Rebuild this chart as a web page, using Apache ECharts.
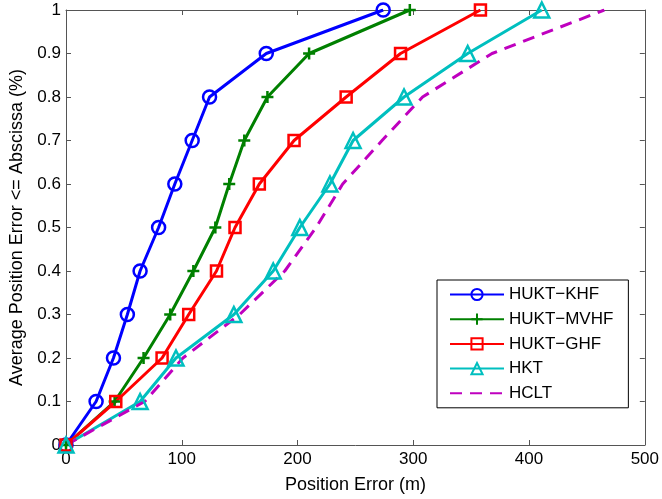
<!DOCTYPE html>
<html lang="en">
<head>
    <meta charset="utf-8">
    <title>Position error CDF</title>
    <script src="https://cdn.jsdelivr.net/npm/echarts@6/dist/echarts.min.js"></script>
    <style>
        html, body { margin: 0; padding: 0; background: #fff; }
        #chart { width: 662px; height: 499px; }
    </style>
</head>
<body>
<div id="chart"></div>
<script type="text/javascript">
    // y levels (fraction of runs)
    var levels = [0, 0.1, 0.2, 0.3, 0.4, 0.5, 0.6, 0.7, 0.8, 0.9, 1.0];

    // position error (m) reached at each level
    var khf = [0, 26, 41, 53, 64, 80, 94, 109, 124, 173, 274];
    var mvhf = [0, 42, 67, 90, 110, 129, 141, 154, 174, 210, 297];
    var ghf = [0, 43, 83, 106, 130, 146, 167, 197, 242, 289, 358];
    var hkt = [0, 64, 95, 145, 179, 202, 228, 248, 292, 347, 411];
    var hclt = [0, 68, 101, 150, 189, 216, 239, 273, 308, 368, 465];

    var names = ['HUKT\u2212KHF', 'HUKT\u2212MVHF', 'HUKT\u2212GHF', 'HKT', 'HCLT'];

    function pairs(xs) {
        return xs.map(function (x, i) { return [x, levels[i]]; });
    }

    var plusPath = 'path://M0,6 L12,6 M6,0 L6,12';
    var font = 'Liberation Sans, Arial, Helvetica, sans-serif';
    var axisGray = '#555';

    function mkSeries(name, xs, color, symbol, size, dashed) {
        return {
            name: name,
            type: 'line',
            data: pairs(xs),
            symbol: symbol,
            symbolSize: size,
            showSymbol: !dashed,
            animation: false,
            lineStyle: { color: color, width: 3, type: dashed ? [12, 8] : 'solid' },
            itemStyle: {
                color: 'transparent',
                borderColor: dashed ? 'transparent' : color,
                borderWidth: 2.5
            },
            z: 5
        };
    }

    // matlab style box: ticks inside on all four sides
    function boxAxis(extra) {
        var a = {
            type: 'value',
            axisLine: { show: true, onZero: false, lineStyle: { color: axisGray, width: 1 } },
            axisTick: { show: true, inside: true, length: 5, lineStyle: { color: axisGray } },
            axisLabel: { show: false },
            splitLine: { show: false }
        };
        for (var k in extra) a[k] = extra[k];
        return a;
    }

    var myChart = echarts.init(document.getElementById('chart'));
    var option = {
        backgroundColor: '#fff',
        animation: false,
        grid: { left: 66, right: 16, top: 10, bottom: 53 },
        legend: {
            orient: 'vertical',
            left: 437,
            top: 280,
            itemWidth: 54,
            itemHeight: 14,
            itemGap: 7.7,
            padding: [6, 15, 6, 12],
            borderColor: '#000',
            borderWidth: 1,
            backgroundColor: '#fff',
            textStyle: { fontSize: 17, color: '#000', fontFamily: font },
            data: names
        },
        xAxis: [
            boxAxis({
                min: 0, max: 500, interval: 100, position: 'bottom',
                name: 'Position Error (m)', nameLocation: 'middle', nameGap: 31,
                nameTextStyle: { fontSize: 18, color: '#000', fontFamily: font },
                axisLabel: { show: true, fontSize: 17, color: '#000', fontFamily: font, margin: 6 }
            }),
            boxAxis({ min: 0, max: 500, interval: 100, position: 'top' })
        ],
        yAxis: [
            boxAxis({
                min: 0, max: 1, interval: 0.1, position: 'left',
                name: 'Average Position Error <= Abscissa (%)', nameLocation: 'middle', nameGap: 40,
                nameTextStyle: { fontSize: 18, color: '#000', fontFamily: font },
                axisLabel: { show: true, fontSize: 17, color: '#000', fontFamily: font, margin: 5 }
            }),
            boxAxis({ min: 0, max: 1, interval: 0.1, position: 'right' })
        ],
        series: [
            mkSeries(names[0], khf, '#0000ff', 'circle', 13, false),
            mkSeries(names[1], mvhf, '#008000', plusPath, 12, false),
            mkSeries(names[2], ghf, '#ff0000', 'rect', 11, false),
            mkSeries(names[3], hkt, '#00bfbf', 'triangle', 15, false),
            mkSeries(names[4], hclt, '#bf00bf', 'none', 0, true)
        ]
    };
    myChart.setOption(option);
</script>
</body>
</html>
